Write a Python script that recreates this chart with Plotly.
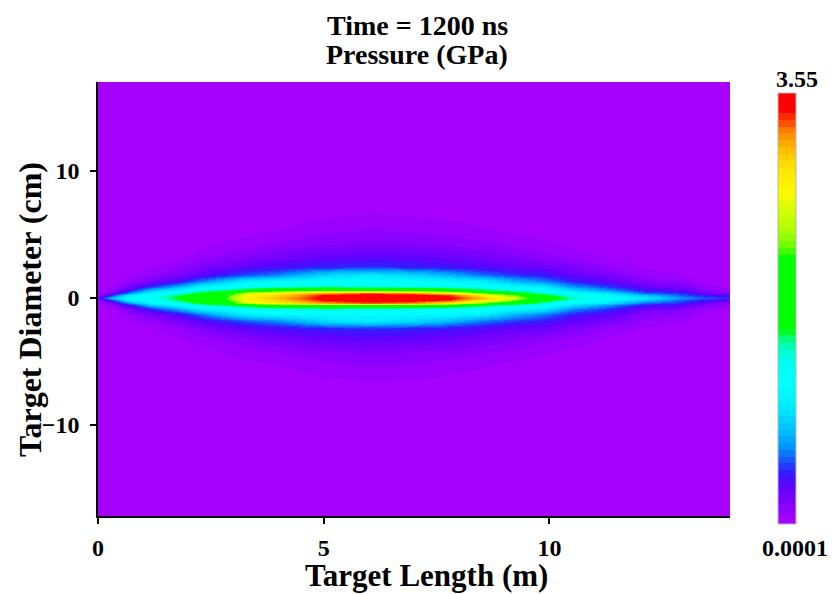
import numpy as np
import plotly.graph_objects as go

# Axial stations along the target (m)
length_m = [0.0, 0.3, 0.7, 1.2, 1.8, 2.3, 2.8, 3.3, 4.0, 5.0, 6.0,
            7.0, 7.8, 8.5, 9.2, 9.8, 10.5, 11.3, 12.1, 12.9, 13.5, 14.0]

# Radial positions from the axis (cm); field is mirrored about y = 0
radius_cm = [0.0, 0.2, 0.4, 0.6, 0.9, 1.3, 1.8, 2.4, 3.2, 4.2, 5.4, 7.0, 17.2]

# Pressure (GPa): one radial profile per axial station
pressure_gpa = [
    [0.30, 0.10, 0.04, 0.02, 0.01, 0.005, 0.001, 0.0001, 0.0001, 0.0001, 0.0001, 0.0001, 0.0001],
    [0.80, 0.45, 0.20, 0.10, 0.05, 0.02, 0.005, 0.0001, 0.0001, 0.0001, 0.0001, 0.0001, 0.0001],
    [1.15, 1.05, 0.65, 0.38, 0.20, 0.11, 0.05, 0.01, 0.0001, 0.0001, 0.0001, 0.0001, 0.0001],
    [1.30, 1.22, 1.05, 0.80, 0.42, 0.22, 0.11, 0.05, 0.01, 0.0001, 0.0001, 0.0001, 0.0001],
    [1.65, 1.55, 1.30, 1.05, 0.70, 0.36, 0.20, 0.11, 0.05, 0.01, 0.0001, 0.0001, 0.0001],
    [1.95, 1.90, 1.70, 1.35, 1.00, 0.60, 0.32, 0.19, 0.10, 0.04, 0.008, 0.0001, 0.0001],
    [2.20, 2.10, 1.85, 1.50, 1.10, 0.80, 0.42, 0.25, 0.13, 0.06, 0.015, 0.0001, 0.0001],
    [2.80, 2.75, 2.60, 1.70, 1.20, 1.00, 0.52, 0.31, 0.17, 0.09, 0.03, 0.002, 0.0001],
    [3.10, 3.00, 2.85, 2.00, 1.30, 1.08, 0.62, 0.37, 0.22, 0.12, 0.05, 0.008, 0.0001],
    [3.48, 3.42, 3.15, 2.20, 1.35, 1.12, 0.88, 0.43, 0.28, 0.16, 0.09, 0.025, 0.0001],
    [3.55, 3.52, 3.30, 2.10, 1.35, 1.12, 0.97, 0.46, 0.31, 0.18, 0.11, 0.035, 0.0001],
    [3.52, 3.48, 3.20, 2.00, 1.30, 1.10, 0.88, 0.43, 0.29, 0.17, 0.10, 0.03, 0.0001],
    [3.45, 3.35, 2.90, 1.85, 1.25, 1.05, 0.74, 0.39, 0.26, 0.15, 0.08, 0.02, 0.0001],
    [3.10, 2.90, 2.30, 1.60, 1.18, 1.00, 0.58, 0.34, 0.22, 0.13, 0.06, 0.012, 0.0001],
    [2.60, 2.35, 1.85, 1.35, 1.05, 0.75, 0.47, 0.29, 0.18, 0.10, 0.035, 0.005, 0.0001],
    [1.95, 1.75, 1.45, 1.20, 0.98, 0.62, 0.41, 0.27, 0.14, 0.07, 0.02, 0.0001, 0.0001],
    [1.48, 1.30, 1.10, 0.90, 0.63, 0.42, 0.29, 0.19, 0.10, 0.04, 0.008, 0.0001, 0.0001],
    [1.22, 1.08, 0.94, 0.64, 0.45, 0.31, 0.21, 0.11, 0.05, 0.015, 0.0001, 0.0001, 0.0001],
    [0.98, 0.80, 0.55, 0.38, 0.26, 0.16, 0.10, 0.05, 0.015, 0.0001, 0.0001, 0.0001, 0.0001],
    [0.66, 0.54, 0.44, 0.32, 0.21, 0.11, 0.06, 0.025, 0.006, 0.0001, 0.0001, 0.0001, 0.0001],
    [0.52, 0.38, 0.25, 0.15, 0.07, 0.035, 0.012, 0.0001, 0.0001, 0.0001, 0.0001, 0.0001, 0.0001],
    [0.46, 0.28, 0.15, 0.08, 0.04, 0.015, 0.0001, 0.0001, 0.0001, 0.0001, 0.0001, 0.0001, 0.0001],
]

p_min, p_max = 0.0001, 3.55
x_ticks = [0, 5, 10]
y_ticks = [-10, 0, 10]

# Mirror the radial profiles to get the full diameter
r = np.array(radius_cm)
y_full = np.concatenate([-r[::-1], r[1:]])
half = np.array(pressure_gpa).T
z_full = np.vstack([half[::-1], half[1:]])

# Rainbow palette, quantised into discrete bands
anchors = [
    (0.00, (172, 0, 255)), (0.025, (152, 0, 255)), (0.05, (130, 0, 255)),
    (0.08, (100, 0, 255)), (0.10, (75, 10, 255)), (0.12, (50, 30, 255)),
    (0.15, (20, 90, 255)), (0.18, (0, 150, 255)), (0.22, (0, 195, 255)),
    (0.27, (0, 235, 255)), (0.32, (0, 255, 255)), (0.38, (0, 255, 240)),
    (0.41, (0, 255, 190)), (0.43, (0, 255, 120)), (0.45, (0, 255, 0)),
    (0.62, (0, 255, 0)), (0.64, (100, 255, 0)), (0.68, (170, 255, 0)),
    (0.73, (215, 255, 0)), (0.77, (255, 250, 0)), (0.82, (255, 230, 0)),
    (0.86, (255, 200, 0)), (0.89, (255, 160, 0)), (0.915, (255, 120, 0)),
    (0.93, (255, 80, 0)), (0.946, (255, 40, 0)), (0.96, (255, 0, 0)),
    (1.00, (255, 0, 0)),
]
a_pos = [a[0] for a in anchors]
a_rgb = np.array([a[1] for a in anchors], dtype=float)


def palette_at(t):
    return tuple(int(round(np.interp(t, a_pos, a_rgb[:, k]))) for k in range(3))


n_bands = 64
colorscale = []
for i in range(n_bands):
    c = "rgb(%d,%d,%d)" % palette_at((i + 0.5) / n_bands)
    colorscale.append([i / n_bands, c])
    colorscale.append([(i + 1) / n_bands, c])

FONT = "Liberation Serif, Times New Roman, serif"

fig = go.Figure(
    go.Heatmap(
        x=length_m,
        y=y_full,
        z=z_full,
        zmin=p_min,
        zmax=p_max,
        zsmooth="best",
        colorscale=colorscale,
        colorbar=dict(
            thickness=18,
            lenmode="pixels",
            len=431,
            x=1.076,
            xanchor="left",
            xpad=0,
            y=0.478,
            yanchor="middle",
            ypad=0,
            outlinecolor="#b8b8b8",
            outlinewidth=1,
            showticklabels=False,
            ticks="",
        ),
    )
)

bold = dict(family=FONT, color="black", weight="bold")

fig.update_xaxes(
    range=[0, 14.0],
    tickvals=x_ticks,
    ticktext=[str(v) for v in x_ticks],
    showline=True, linecolor="black", linewidth=1.5,
    ticks="outside", ticklen=6, tickcolor="black", tickwidth=1.5,
    ticklabelstandoff=3,
    showgrid=False, zeroline=False,
    tickfont=dict(size=24, **bold),
)
fig.update_yaxes(
    range=[-17.2, 17.0],
    tickvals=y_ticks,
    ticktext=["\u221210", "0", "10"],
    showline=True, linecolor="black", linewidth=1.5,
    ticks="outside", ticklen=6, tickcolor="black", tickwidth=1.5,
    ticklabelstandoff=6,
    showgrid=False, zeroline=False,
    tickfont=dict(size=24, **bold),
)

annotations = [
    dict(text="Time = 1200 ns", x=0.505, y=1.131, font=dict(size=28, **bold)),
    dict(text="Pressure (GPa)", x=0.505, y=1.063, font=dict(size=28, **bold)),
    dict(text="Target Length (m)", x=0.519, y=-0.136, font=dict(size=31, **bold)),
    dict(text="Target Diameter (cm)", x=-0.1076, y=0.477, textangle=-90,
         font=dict(size=32, **bold)),
    dict(text="3.55", x=1.106, y=1.007, font=dict(size=24, **bold)),
    dict(text="0.0001", x=1.103, y=-0.0737, font=dict(size=24, **bold)),
]
for a in annotations:
    a.update(xref="paper", yref="paper", showarrow=False,
             xanchor="center", yanchor="middle")

fig.update_layout(
    width=836,
    height=594,
    margin=dict(l=98, r=106, t=82, b=78),
    paper_bgcolor="white",
    plot_bgcolor="white",
    annotations=annotations,
    showlegend=False,
)

fig.write_html("out.html")
